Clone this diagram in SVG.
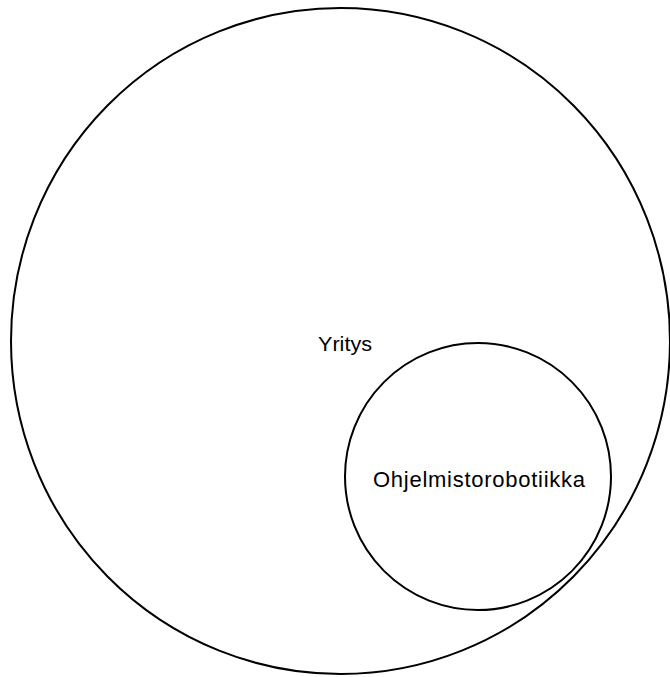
<svg xmlns="http://www.w3.org/2000/svg" width="670" height="677" viewBox="0 0 670 677">
<style>
.shape{fill:none;stroke:#000;stroke-width:2}
.lbl{font-family:"Liberation Sans",Arial,sans-serif;fill:#000;text-anchor:middle}
</style>
<rect width="670" height="677" fill="#fff"/>
<g id="yritys">
<ellipse class="shape" cx="340.5" cy="341" rx="329.5" ry="333"/>
<text class="lbl" x="345" y="350.5" font-size="21" textLength="54" lengthAdjust="spacingAndGlyphs">Yritys</text>
</g>
<g id="ohjelmistorobotiikka">
<ellipse class="shape" cx="478" cy="476.5" rx="133" ry="133.5"/>
<text class="lbl" x="479" y="486.5" font-size="22" textLength="212" lengthAdjust="spacing">Ohjelmistorobotiikka</text>
</g>
<g id="connectors"/>
</svg>
